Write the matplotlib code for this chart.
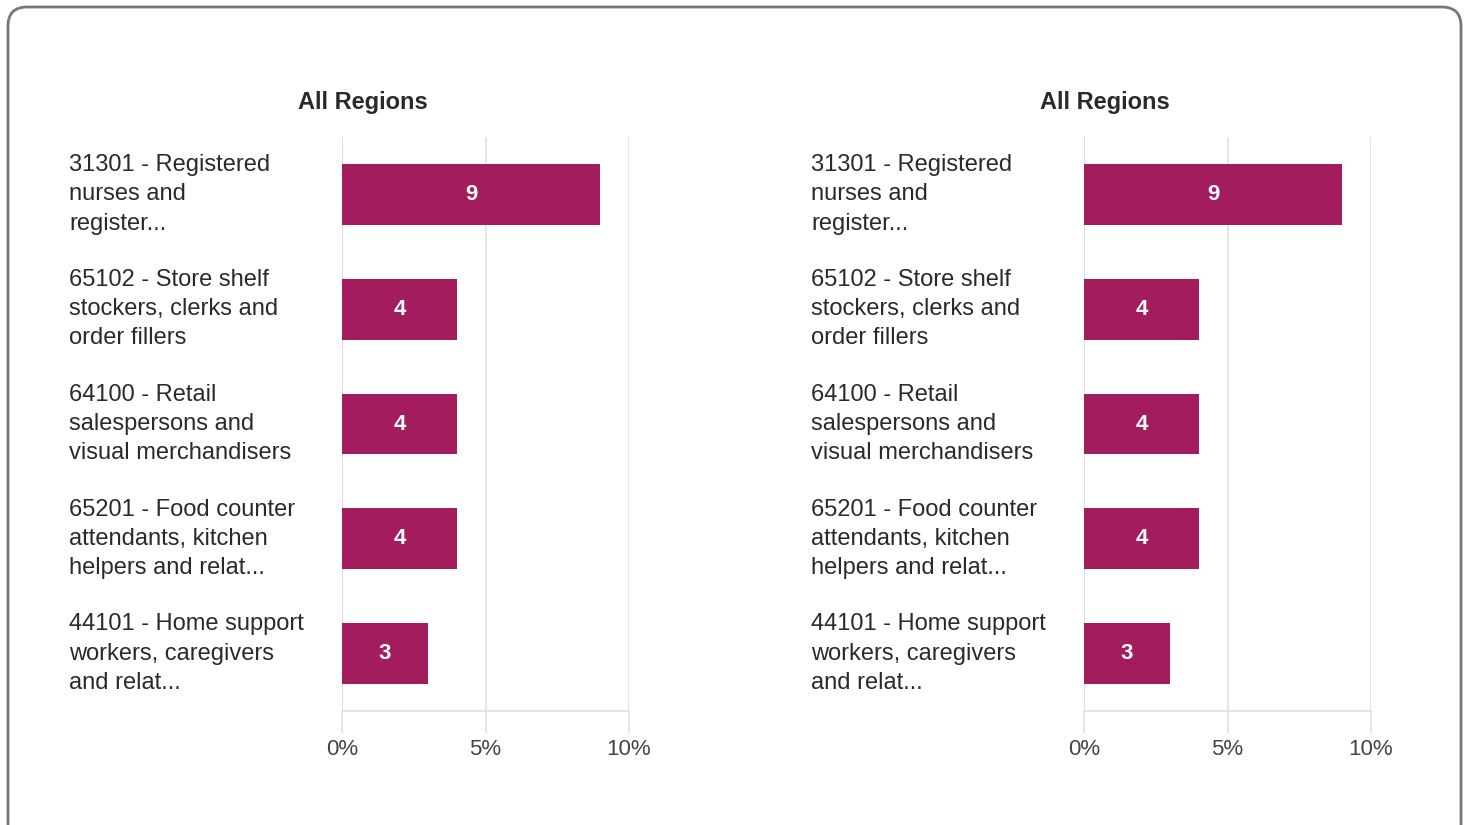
"""
Top occupations chart: two identical "All Regions" panels of horizontal bars.
"""

import matplotlib.pyplot as plt
from matplotlib.patches import FancyBboxPatch
from matplotlib.transforms import blended_transform_factory

plt.rcParams["font.family"] = ["Liberation Sans", "DejaVu Sans"]

occupations = [
    "31301 - Registered\nnurses and\nregister...",
    "65102 - Store shelf\nstockers, clerks and\norder fillers",
    "64100 - Retail\nsalespersons and\nvisual merchandisers",
    "65201 - Food counter\nattendants, kitchen\nhelpers and relat...",
    "44101 - Home support\nworkers, caregivers\nand relat...",
]
shares = [9, 4, 4, 4, 3]
bar_labels = ["9", "4", "4", "4", "3"]
x_ticks = [0, 5, 10]
x_tick_labels = ["0%", "5%", "10%"]
panel_title = "All Regions"

BAR_COLOR = "#A31D5E"
GRID_COLOR = "#E0E0E0"
TEXT_COLOR = "#2A2A2A"
TICK_COLOR = "#444444"

W, H = 1469, 825
fig = plt.figure(figsize=(W / 100, H / 100), dpi=100)

# rounded frame around the whole card (bottom edge runs off the image)
frame = FancyBboxPatch(
    (8 / W, -20 / H), (1461 - 8) / W, (H + 20 - 7) / H,
    boxstyle="round,pad=0,rounding_size=0.013",
    transform=fig.transFigure, facecolor="none", edgecolor="#777777",
    linewidth=2, mutation_aspect=W / H, clip_on=False, zorder=10,
)
fig.patches.append(frame)

panels = [
    {"axis_left": 342, "label_x": 69, "title_x": 363},
    {"axis_left": 1084, "label_x": 811, "title_x": 1105},
]

ax_bottom = 1 - 711 / H
ax_height = (711 - 137) / H
ax_width = 287 / W

for p in panels:
    ax = fig.add_axes([p["axis_left"] / W, ax_bottom, ax_width, ax_height])
    ypos = list(range(len(shares)))
    ax.barh(ypos, shares, height=0.53, color=BAR_COLOR, zorder=3)
    ax.set_xlim(0, 10)
    ax.set_ylim(len(shares) - 0.5, -0.5)

    for y, v, lbl in zip(ypos, shares, bar_labels):
        ax.text(v / 2, y, lbl, ha="center", va="center", color="white",
                fontsize=16, fontweight="bold", zorder=4)

    trans = blended_transform_factory(fig.transFigure, ax.transData)
    for y, name in zip(ypos, occupations):
        ax.text(p["label_x"] / W, y, name, transform=trans, ha="left",
                va="center", fontsize=17, color=TEXT_COLOR, linespacing=1.42,
                clip_on=False)

    ax.set_yticks([])
    ax.set_xticks(x_ticks)
    ax.set_xticklabels(x_tick_labels, fontsize=16, color=TICK_COLOR)
    ax.tick_params(axis="x", length=16, width=1.2, color=GRID_COLOR, pad=4)
    ax.grid(axis="x", color=GRID_COLOR, linewidth=1.2, zorder=0)
    ax.axvline(0, color="#CCCCCC", linewidth=1.2, zorder=1)
    for side in ["top", "right", "left"]:
        ax.spines[side].set_visible(False)
    ax.spines["bottom"].set_color(GRID_COLOR)
    ax.spines["bottom"].set_linewidth(1.2)

    fig.text(p["title_x"] / W, 1 - 102 / H, panel_title, ha="center",
             va="center", fontsize=17, fontweight="bold", color=TEXT_COLOR)

fig.savefig("out.png", dpi=100)
